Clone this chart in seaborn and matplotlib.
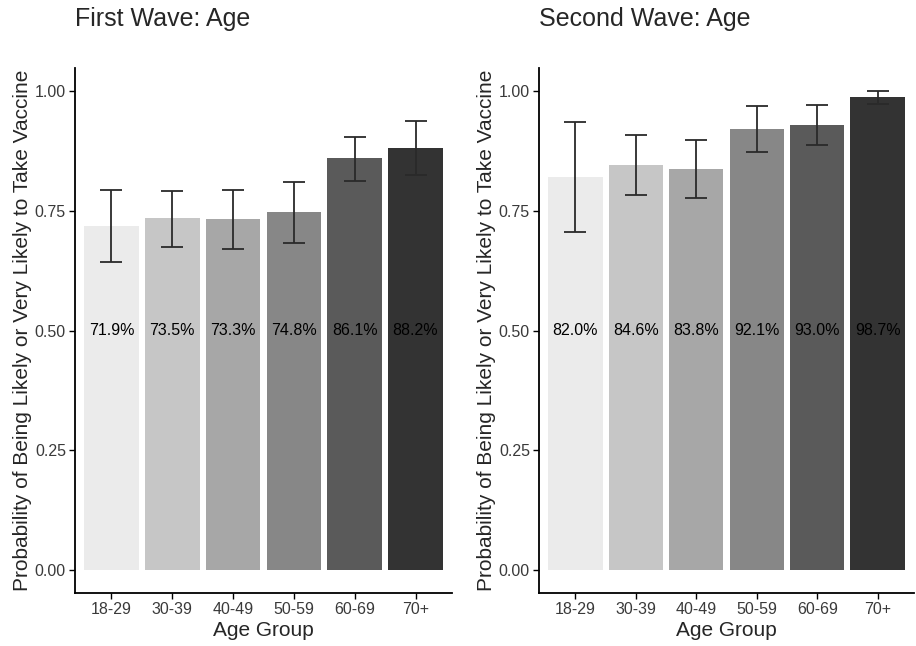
import numpy as np
import pandas as pd
import matplotlib
matplotlib.use('Agg')
import matplotlib.pyplot as plt
import seaborn as sns

age_groups = ['18-29', '30-39', '40-49', '50-59', '60-69', '70+']
grey_fill = ['#EBEBEB', '#C6C6C6', '#A7A7A7', '#878787', '#5A5A5A', '#333333']

# first wave
wave1_prob = [0.719, 0.735, 0.733, 0.748, 0.861, 0.882]
wave1_low = [0.644, 0.675, 0.670, 0.683, 0.813, 0.825]
wave1_high = [0.793, 0.792, 0.794, 0.811, 0.904, 0.937]

# second wave
wave2_prob = [0.820, 0.846, 0.838, 0.921, 0.930, 0.987]
wave2_low = [0.705, 0.782, 0.777, 0.872, 0.887, 0.972]
wave2_high = [0.935, 0.909, 0.897, 0.968, 0.971, 0.999]

sns.set_style('white')
plt.rcParams['font.family'] = ['Liberation Sans', 'DejaVu Sans']

W, H = 916, 646
fig = plt.figure(figsize=(W / 100, H / 100), dpi=100)
ax1 = fig.add_axes([75 / W, 53 / H, 377 / W, 525 / H])
ax2 = fig.add_axes([539 / W, 53 / H, 375 / W, 525 / H])

panels = [
    (ax1, 'First Wave: Age', wave1_prob, wave1_low, wave1_high, 75),
    (ax2, 'Second Wave: Age', wave2_prob, wave2_low, wave2_high, 539),
]

for ax, title, prob, low, high, title_x in panels:
    df = pd.DataFrame({'age': age_groups, 'prob': prob})
    sns.barplot(data=df, x='age', y='prob', hue='age', palette=grey_fill,
                order=age_groups, hue_order=age_groups, width=0.9,
                legend=False, ax=ax, edgecolor='none', saturation=1)
    x = np.arange(len(age_groups))
    p = np.array(prob)
    yerr = np.vstack([p - np.array(low), np.array(high) - p])
    ax.errorbar(x, p, yerr=yerr, fmt='none', ecolor='#2a2a2a',
                elinewidth=1.3, capsize=8, capthick=1.3)
    for xi, v in zip(x, prob):
        ax.text(xi, 0.5, f'{v * 100:.1f}%', ha='center', va='center',
                fontsize=11.5, color='black')
    ax.set_xlim(-0.6, 5.6)
    ax.set_ylim(-0.048, 1.048)
    ax.set_yticks([0, 0.25, 0.5, 0.75, 1.0])
    ax.set_yticklabels(['0.00', '0.25', '0.50', '0.75', '1.00'])
    ax.set_xlabel('Age Group', fontsize=15, labelpad=3)
    ax.set_ylabel('Probability of Being Likely or Very Likely to Take Vaccine',
                  fontsize=15, labelpad=2)
    ax.tick_params(axis='both', which='both', length=4, width=1,
                   direction='out', labelsize=11.5, colors='black',
                   left=True, bottom=True, pad=2.5)
    for tl in ax.get_xticklabels() + ax.get_yticklabels():
        tl.set_color('#3a3a3a')
    sns.despine(ax=ax)
    for side in ['left', 'bottom']:
        ax.spines[side].set_linewidth(1.3)
        ax.spines[side].set_color('black')
    fig.text(title_x / W, 1 - 19 / H, title, fontsize=18,
             ha='left', va='center')

fig.savefig('out.png', dpi=100)
